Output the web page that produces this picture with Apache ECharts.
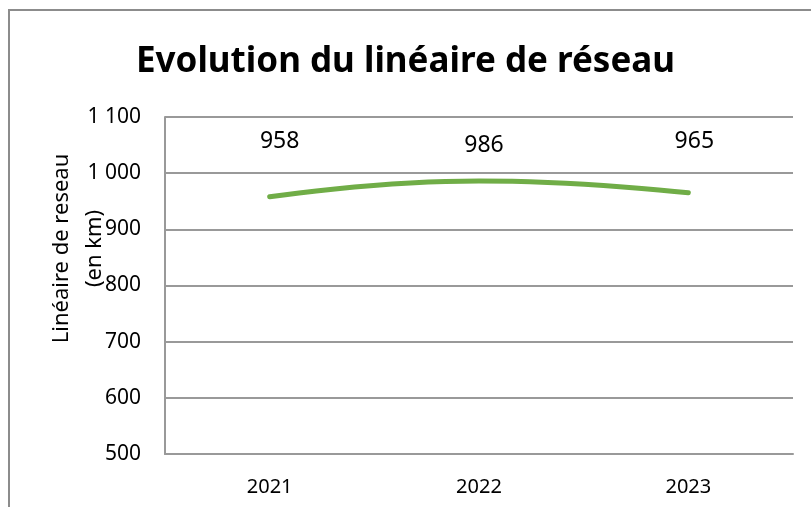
<!DOCTYPE html>
<html>
<head>
<meta charset="utf-8">
<script src="https://cdn.jsdelivr.net/npm/echarts@6/dist/echarts.min.js"></script>
<style>
  html, body { margin: 0; padding: 0; background: #fff; }
  #chart { width: 811px; height: 507px; }
</style>
</head>
<body>
<div id="chart"></div>
<script>
// data
const years = ['2021', '2022', '2023'];
const lineaire = [958, 986, 965];
const yTicks = [500, 600, 700, 800, 900, 1000, 1100];

function fmtFr(v) {
    // 1100 -> "1 100"
    return String(v).replace(/\B(?=(\d{3})+(?!\d))/g, ' ');
}

const chart = echarts.init(document.getElementById('chart'));
const font = 'Noto Sans';

const option = {
    animation: false,
    graphic: [
        {
            type: 'rect',
            shape: { x: 9, y: 10, width: 900, height: 600 },
            style: { fill: 'none', stroke: '#8c8c8c', lineWidth: 2 }
        }
    ],
    title: {
        text: 'Evolution du linéaire de réseau',
        left: 'center',
        top: 40,
        textStyle: { fontFamily: font, fontWeight: 'bold', fontSize: 35, color: '#000' }
    },
    grid: { left: 165, right: 18, top: 117, bottom: 53 },
    xAxis: {
        type: 'category',
        data: years,
        boundaryGap: true,
        axisLine: { lineStyle: { color: '#999', width: 2 } },
        axisTick: { show: false },
        axisLabel: { fontFamily: font, fontSize: 20, color: '#000', margin: 23 }
    },
    yAxis: {
        type: 'value',
        min: yTicks[0],
        max: yTicks[yTicks.length - 1],
        interval: 100,
        name: 'Linéaire de reseau\n(en km)',
        nameLocation: 'middle',
        nameGap: 54,
        nameMoveOverlap: false,
        nameTextStyle: {
            fontFamily: font, fontSize: 22, color: '#000', lineHeight: 33,
            padding: [0, 0, 0, 74]
        },
        axisLine: { show: true, lineStyle: { color: '#999', width: 2 } },
        axisTick: { show: false },
        splitLine: { lineStyle: { color: '#999', width: 2 } },
        axisLabel: {
            fontFamily: font, fontSize: 21, color: '#000', margin: 24,
            formatter: v => fmtFr(v)
        }
    },
    series: [
        {
            type: 'line',
            smooth: true,
            symbol: 'circle',
            symbolSize: 2,
            showSymbol: true,
            itemStyle: { color: 'rgba(112,173,71,0)', borderWidth: 0 },
            lineStyle: { color: '#70ad47', width: 5, cap: 'round' },
            label: {
                show: true,
                position: 'top',
                fontFamily: font,
                fontSize: 23,
                color: '#000'
            },
            data: lineaire.map((v, i) => ({
                value: v,
                label: { show: true, offset: [[10, -38], [5, -18], [6, -34]][i] }
            }))
        }
    ]
};

chart.setOption(option);
</script>
</body>
</html>
